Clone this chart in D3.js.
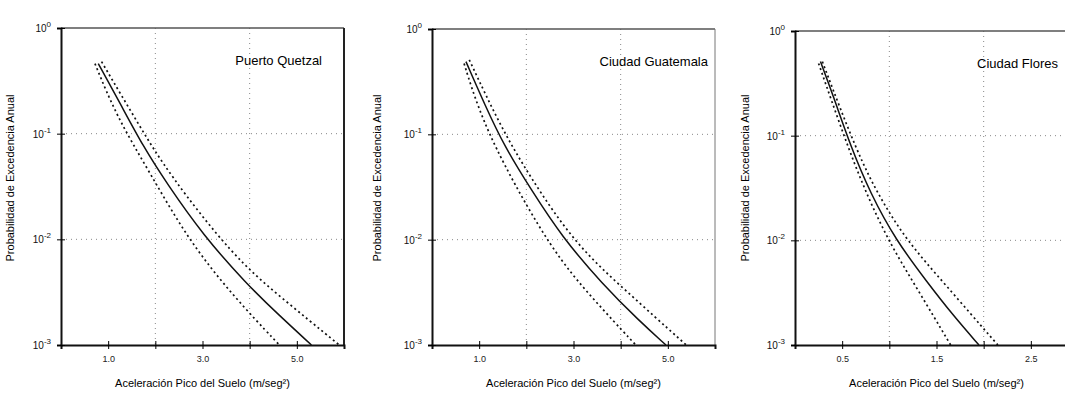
<!DOCTYPE html>
<html>
<head>
<meta charset="utf-8">
<script src="https://cdn.jsdelivr.net/npm/d3@7"></script>
<style>
  body { margin: 0; background: #fff; }
  svg { display: block; font-family: "Liberation Sans", Arial, sans-serif; }
</style>
</head>
<body>
<div id="chart"></div>
<script>
// panel titles
const titles = ['Puerto Quetzal', 'Ciudad Guatemala', 'Ciudad Flores'];

// x domain max and tick values per panel
const xMax = [6, 6, 3];
const xTicks = [[1, 2, 3, 4, 5], [1, 2, 3, 4, 5], [0.5, 1, 1.5, 2, 2.5]];
const xTickLabels = [['1.0', '', '3.0', '', '5.0'], ['1.0', '', '3.0', '', '5.0'], ['0.5', '', '1.5', '', '2.5']];
const xGrid = [[2, 4], [2, 4], [1, 2]];

// y: annual exceedance probability (log)
const yTicks = [1, 0.1, 0.01, 0.001];
const yExp = ['0', '-1', '-2', '-3'];

// curves: acceleration (m/s²) and exceedance probability
// Puerto Quetzal
const pqMedX = [0.79, 1.25, 1.74, 2.24, 3.01, 3.93, 4.63, 5.31];
const pqMedP = [0.46, 0.195, 0.076, 0.034, 0.011, 0.0038, 0.0019, 0.001];
const pqHiX = [0.86, 1.67, 2.27, 3.65, 4.63, 5.90];
const pqHiP = [0.48, 0.117, 0.0427, 0.0069, 0.0029, 0.001];
const pqLoX = [0.72, 1.18, 1.88, 2.69, 3.65, 4.63];
const pqLoP = [0.46, 0.145, 0.043, 0.010, 0.0029, 0.001];
// Ciudad Guatemala
const cgMedX = [0.72, 1.11, 1.54, 2.11, 2.75, 3.61, 4.39, 4.96];
const cgMedP = [0.49, 0.195, 0.076, 0.0295, 0.0107, 0.0038, 0.0017, 0.001];
const cgHiX = [0.79, 1.46, 2.07, 3.03, 4.10, 5.39];
const cgHiP = [0.51, 0.117, 0.040, 0.0091, 0.0033, 0.001];
const cgLoX = [0.68, 0.97, 1.46, 2.54, 3.39, 4.32];
const cgLoP = [0.47, 0.18, 0.057, 0.0079, 0.0028, 0.001];
// Ciudad Flores
const cfMedX = [0.27, 0.41, 0.59, 0.80, 1.07, 1.40, 1.68, 1.95];
const cfMedP = [0.51, 0.234, 0.079, 0.028, 0.010, 0.0040, 0.0019, 0.001];
const cfHiX = [0.29, 0.66, 0.91, 1.19, 1.58, 2.15];
const cfHiP = [0.51, 0.068, 0.0245, 0.0098, 0.0039, 0.001];
const cfLoX = [0.25, 0.52, 0.73, 0.99, 1.30, 1.65];
const cfLoP = [0.49, 0.098, 0.0316, 0.0098, 0.0034, 0.001];

const series = [
  [[pqLoX, pqLoP, true], [pqHiX, pqHiP, true], [pqMedX, pqMedP, false]],
  [[cgLoX, cgLoP, true], [cgHiX, cgHiP, true], [cgMedX, cgMedP, false]],
  [[cfLoX, cfLoP, true], [cfHiX, cfHiP, true], [cfMedX, cfMedP, false]]
];

const width = 1065, height = 398;
const panelLeft = [61, 432, 795];
const panelTop = [28, 29, 31];
const pw = 283;

const svg = d3.select('#chart').append('svg')
  .attr('width', width)
  .attr('height', height);

svg.append('rect').attr('width', width).attr('height', height).attr('fill', '#fff');

titles.forEach((title, i) => {
  const g = svg.append('g').attr('transform', `translate(${panelLeft[i]},${panelTop[i]})`);
  const h = 345 - panelTop[i];

  const x = d3.scaleLinear().domain([0, xMax[i]]).range([0, pw]);
  const y = d3.scaleLog().domain([0.001, 1]).range([h, 0]);

  // dotted grid
  g.selectAll('.vgrid').data(xGrid[i]).enter().append('line')
    .attr('x1', d => x(d)).attr('x2', d => x(d))
    .attr('y1', 0).attr('y2', h)
    .attr('stroke', '#888').attr('stroke-width', 1).attr('stroke-dasharray', '1,4');
  g.selectAll('.hgrid').data([0.1, 0.01]).enter().append('line')
    .attr('x1', 0).attr('x2', pw)
    .attr('y1', d => y(d)).attr('y2', d => y(d))
    .attr('stroke', '#888').attr('stroke-width', 1).attr('stroke-dasharray', '1,4');

  // frame
  g.append('line').attr('x1', 0).attr('x2', pw).attr('y1', 0).attr('y2', 0)
    .attr('stroke', '#555').attr('stroke-width', 1.5);
  g.append('line').attr('x1', pw).attr('x2', pw).attr('y1', 0).attr('y2', h)
    .attr('stroke', i === 0 ? '#222' : '#777').attr('stroke-width', i === 0 ? 2 : 1);

  // curves
  const line = d3.line()
    .x(d => x(d[0]))
    .y(d => y(d[1]))
    .curve(d3.curveBasis);

  series[i].forEach(([xs, ps, dashed]) => {
    const pts = xs.map((v, k) => [v, ps[k]]);
    g.append('path')
      .datum(pts)
      .attr('d', line)
      .attr('fill', 'none')
      .attr('stroke', '#111')
      .attr('stroke-width', dashed ? 1.7 : 1.5)
      .attr('stroke-dasharray', dashed ? '2,3' : null);
  });

  // x axis
  const xAxis = g.append('g').attr('transform', `translate(0,${h})`)
    .call(d3.axisBottom(x).tickValues(xTicks[i]).tickSize(4)
      .tickFormat((d, k) => xTickLabels[i][k]));
  g.append('g').attr('transform', `translate(0,${h})`)
    .call(d3.axisBottom(x).tickValues(xTicks[i]).tickSize(-4).tickFormat(''))
    .select('.domain').remove();
  xAxis.select('.domain').attr('stroke', '#111').attr('stroke-width', 2);
  xAxis.selectAll('text').attr('font-size', 9).attr('fill', '#222').attr('dy', '1.1em');

  // y axis
  const yAxis = g.append('g')
    .call(d3.axisLeft(y).tickValues(yTicks).tickSize(4).tickFormat(''));
  g.append('g')
    .call(d3.axisLeft(y).tickValues(yTicks).tickSize(-4).tickFormat(''))
    .select('.domain').remove();
  yAxis.select('.domain').attr('stroke', '#111').attr('stroke-width', 2);

  const ylab = g.selectAll('.ylab').data(yTicks).enter().append('text')
    .attr('x', -10)
    .attr('y', d => y(d) + 4)
    .attr('text-anchor', 'end')
    .attr('font-size', 10)
    .attr('fill', '#111');
  ylab.append('tspan').text('10');
  ylab.append('tspan').attr('dy', -5).attr('font-size', 8).text((d, k) => yExp[k]);

  // title
  g.append('text')
    .attr('x', pw - (i === 0 ? 22 : i === 1 ? 7 : 20))
    .attr('y', 37)
    .attr('text-anchor', 'end')
    .attr('font-size', 13)
    .attr('fill', '#000')
    .text(title);

  // axis titles
  g.append('text')
    .attr('x', pw / 2)
    .attr('y', 387 - panelTop[i])
    .attr('text-anchor', 'middle')
    .attr('font-size', 11)
    .attr('fill', '#000')
    .text('Aceleración Pico del Suelo (m/seg²)');

  g.append('text')
    .attr('transform', `translate(${(i === 0 ? 14 : i === 1 ? 381 : 749) - panelLeft[i]},${178 - panelTop[i]}) rotate(-90)`)
    .attr('text-anchor', 'middle')
    .attr('font-size', 11)
    .attr('fill', '#000')
    .text('Probabilidad de Excedencia Anual');
});
</script>
</body>
</html>
